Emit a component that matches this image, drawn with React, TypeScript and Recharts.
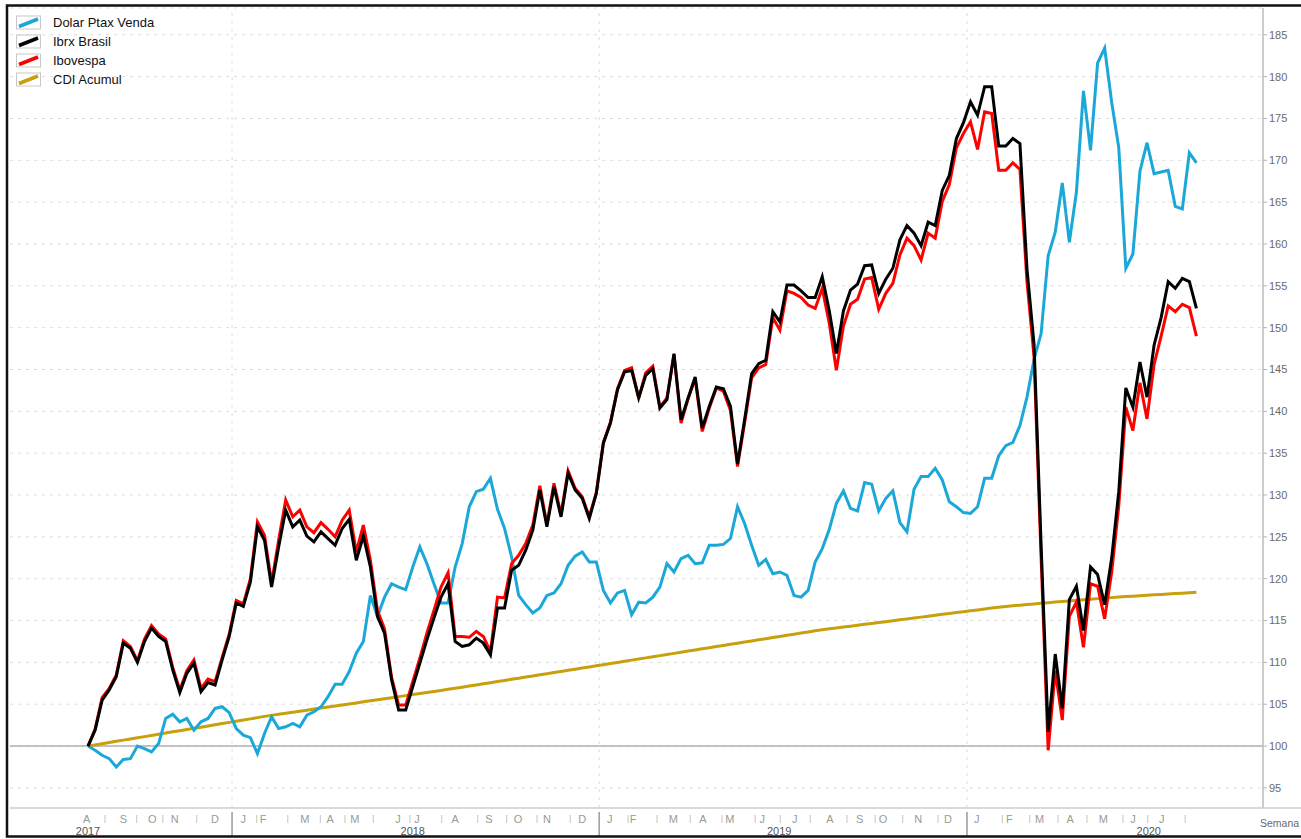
import React from 'react';
import {
  LineChart,
  Line,
  XAxis,
  YAxis,
  CartesianGrid,
  ReferenceLine,
  Legend,
} from 'recharts';

// weekly closes, base 100 = first week of Aug/2017
const dolar = [
  100, 99.5, 98.9, 98.5, 97.5, 98.4, 98.5, 100, 99.7, 99.3,
  100.3, 103.3, 103.8, 102.9, 103.3, 101.9, 102.9, 103.3, 104.5, 104.7,
  104.0, 102.1, 101.3, 101.0, 99.1, 101.5, 103.5, 102.1, 102.3, 102.7,
  102.3, 103.7, 104.1, 104.7, 105.9, 107.4, 107.4, 108.9, 111.1, 112.5,
  118.0, 115.5, 117.8, 119.4, 119.0, 118.7, 121.4, 123.8, 121.8, 119.4,
  117.1, 117.1, 121.4, 124.2, 128.6, 130.4, 130.7, 132.0, 128.3, 126.0,
  122.6, 118.0, 116.9, 115.9, 116.5, 118.0, 118.3, 119.4, 121.6, 122.7,
  123.2, 122.0, 122.0, 118.6, 117.1, 118.3, 118.6, 115.7, 117.2, 117.1,
  117.8, 119.0, 121.8, 120.8, 122.4, 122.8, 121.8, 121.9, 124.0, 124.0,
  124.1, 124.8, 128.6, 126.6, 124.0, 121.6, 122.3, 120.6, 120.8, 120.4,
  118.0, 117.8, 118.6, 122.0, 123.6, 125.9, 129.0, 130.5, 128.4, 128.1,
  131.5, 131.3, 128.1, 129.6, 130.5, 126.7, 125.6, 130.7, 132.2, 132.2,
  133.2, 131.8, 129.2, 128.6, 127.9, 127.8, 128.6, 132.0, 132.0, 134.7,
  135.9, 136.3, 138.3, 141.7, 146.2, 149.3, 158.6, 161.4, 167.3, 160.2,
  166.2, 178.3, 171.2, 181.6, 183.4, 176.9, 171.5, 157.1, 158.8, 168.7,
  172.1, 168.4, 168.6, 168.8, 164.5, 164.2, 170.9, 169.7,
];

const ibrx = [
  100, 101.9, 105.5, 106.7, 108.3, 112.3, 111.7, 110.0, 112.5, 114.1,
  113.1, 112.5, 109.1, 106.4, 108.7, 109.9, 106.5, 107.6, 107.3, 110.3,
  113.1, 117.1, 116.7, 119.6, 126.2, 124.6, 119.0, 123.8, 128.2, 126.2,
  127.0, 125.1, 124.4, 125.6, 124.8, 124.0, 126.0, 127.1, 122.2, 125.1,
  121.4, 115.5, 113.5, 107.9, 104.3, 104.3, 107.1, 109.9, 112.7, 115.3,
  117.8, 119.4, 112.5, 111.9, 112.1, 112.9, 112.3, 110.9, 116.5, 116.5,
  121.0, 121.6, 123.4, 125.8, 130.6, 126.2, 131.0, 127.4, 132.6, 130.6,
  129.6, 127.2, 130.2, 136.2, 138.6, 142.6, 144.7, 144.9, 141.6, 144.3,
  145.1, 140.4, 141.4, 146.9, 139.0, 141.6, 144.1, 138.0, 140.6, 142.9,
  142.7, 140.6, 133.7, 139.0, 144.5, 145.7, 146.1, 151.9, 150.7, 155.1,
  155.1, 154.4, 153.6, 153.6, 156.1, 152.0, 146.9, 152.0, 154.5, 155.2,
  157.4, 157.5, 154.1, 155.8, 157.1, 160.5, 162.2, 161.3, 159.8, 162.6,
  162.2, 166.4, 168.2, 172.6, 174.5, 177.0, 175.4, 178.8, 178.8, 171.7,
  171.7, 172.6, 172.0, 157.0, 148.0, 124.0, 101.7, 111.0, 104.5, 117.5,
  119.1, 113.8, 121.4, 120.5, 116.9, 122.5, 130.4, 142.8, 140.5, 145.9,
  141.7, 147.9, 151.2, 155.5, 154.7, 155.9, 155.5, 152.3,
];

const ibov = [
  100, 102.0, 105.8, 106.9, 108.5, 112.6, 111.9, 110.2, 112.8, 114.4,
  113.4, 112.8, 109.4, 106.7, 109.0, 110.3, 106.9, 108.0, 107.7, 110.6,
  113.4, 117.4, 117.0, 120.0, 126.8, 125.2, 119.5, 124.6, 129.4, 127.4,
  128.2, 126.2, 125.5, 126.7, 125.9, 125.0, 127.0, 128.2, 123.2, 126.4,
  122.2, 116.2, 114.0, 108.2, 104.9, 104.9, 107.7, 110.5, 113.5, 116.2,
  119.0, 120.7, 113.1, 113.1, 113.0, 113.7, 113.1, 111.3, 117.8, 117.7,
  121.8, 122.8, 124.2, 126.4, 131.1, 126.5, 131.4, 127.7, 132.9, 130.8,
  129.8, 127.4, 130.3, 136.3, 138.7, 142.7, 144.9, 145.2, 141.6, 144.6,
  145.4, 140.5, 141.6, 146.8, 138.6, 141.5, 143.9, 137.6, 140.4, 142.8,
  142.4, 140.1, 133.4, 138.6, 144.0, 145.2, 145.6, 151.2, 149.7, 154.4,
  154.1, 153.6, 152.7, 152.3, 154.7, 150.5, 144.9, 150.2, 152.8, 153.4,
  155.8, 156.0, 152.2, 154.1, 155.3, 158.7, 160.7, 159.8, 158.1, 161.3,
  160.7, 165.1, 167.1, 171.5, 173.2, 174.6, 171.3, 175.8, 175.6, 168.8,
  168.8, 169.7, 168.9, 155.5, 146.5, 122.5, 99.5, 109.0, 103.1, 115.5,
  117.2, 111.8, 119.4, 119.1, 115.2, 120.8, 128.7, 140.5, 137.7, 143.4,
  139.1, 145.6, 149.0, 152.6, 151.9, 152.8, 152.4, 149.0,
];

const cdi = [
  100.0, 100.14, 100.28, 100.43, 100.57, 100.71, 100.85, 100.99, 101.13, 101.27,
  101.41, 101.56, 101.7, 101.84, 101.98, 102.12, 102.26, 102.4, 102.54, 102.69,
  102.83, 102.97, 103.11, 103.25, 103.4, 103.55, 103.67, 103.8, 103.92, 104.05,
  104.17, 104.29, 104.42, 104.54, 104.67, 104.79, 104.92, 105.04, 105.16, 105.29,
  105.41, 105.54, 105.66, 105.78, 105.91, 106.03, 106.16, 106.28, 106.41, 106.53,
  106.65, 106.78, 106.9, 107.03, 107.17, 107.3, 107.44, 107.57, 107.71, 107.84,
  107.98, 108.11, 108.25, 108.38, 108.52, 108.65, 108.79, 108.92, 109.06, 109.19,
  109.33, 109.46, 109.6, 109.73, 109.87, 110.0, 110.14, 110.27, 110.4, 110.54,
  110.67, 110.81, 110.94, 111.08, 111.21, 111.35, 111.48, 111.62, 111.75, 111.89,
  112.02, 112.16, 112.29, 112.43, 112.56, 112.7, 112.83, 112.97, 113.1, 113.24,
  113.37, 113.51, 113.64, 113.77, 113.9, 114.01, 114.12, 114.23, 114.33, 114.44,
  114.55, 114.66, 114.77, 114.87, 114.98, 115.09, 115.2, 115.31, 115.41, 115.52,
  115.63, 115.74, 115.84, 115.95, 116.06, 116.17, 116.27, 116.38, 116.49, 116.6,
  116.68, 116.76, 116.84, 116.91, 116.99, 117.07, 117.14, 117.21, 117.28, 117.35,
  117.42, 117.49, 117.55, 117.62, 117.68, 117.74, 117.8, 117.86, 117.91, 117.97,
  118.02, 118.07, 118.12, 118.17, 118.22, 118.27, 118.32, 118.37,
];

// x axis: week index of month labels, month separators and years
const monthLabels = [
  'A', 'S', 'O', 'N', 'D',
  'J', 'F', 'M', 'A', 'M', 'J', 'J', 'A', 'S', 'O', 'N', 'D',
  'J', 'F', 'M', 'A', 'M', 'J', 'J', 'A', 'S', 'O', 'N', 'D',
  'J', 'F', 'M', 'A', 'M', 'J', 'J',
];
const monthWeeks = [
  -0.2, 5.0, 9.1, 12.3, 18.0,
  22.0, 24.8, 30.7, 34.3, 37.8, 43.9, 46.6, 52.0, 56.8, 60.9, 65.0, 70.0,
  73.9, 77.2, 82.9, 87.1, 90.9, 95.5, 100.1, 105.1, 109.3, 112.6, 117.6, 121.8,
  125.9, 130.5, 134.8, 139.1, 143.8, 148.0, 152.1,
];
const monthSepWeeks = [
  2.4, 6.9, 10.6, 15.4,
  23.9, 28.3, 32.9, 36.4, 40.4, 45.6, 50.1, 55.2, 59.3, 63.6, 68.3,
  76.5, 80.6, 85.3, 89.8, 94.5, 98.05, 102.3, 107.5, 111.5, 115.4, 120.4,
  129.5, 133.4, 137.4, 141.5, 146.6, 150.1, 155.4,
];
const yearLabels = ['2017', '2018', '2019', '2020'];
const yearLabelWeeks = [0, 46, 97.9, 150.25];
const yearSepWeeks = [20.4, 72.4, 124.5];

const yTicks = [95, 100, 105, 110, 115, 120, 125, 130, 135, 140, 145, 150, 155, 160, 165, 170, 175, 180, 185];

const series = [
  { key: 'dolar', name: 'Dolar Ptax Venda', color: '#1BA8D9' },
  { key: 'ibrx', name: 'Ibrx Brasil', color: '#000000' },
  { key: 'ibov', name: 'Ibovespa', color: '#FF0000' },
  { key: 'cdi', name: 'CDI Acumul', color: '#C8A00C' },
];

const data = dolar.map((v, i) => ({
  w: i,
  dolar: v,
  ibrx: ibrx[i],
  ibov: ibov[i],
  cdi: cdi[i],
}));

type Tick = { v: number; kind: 'month' | 'sep' | 'year' | 'ysep'; text?: string };
const xTicks: Tick[] = [
  ...monthWeeks.map((v, i) => ({ v, kind: 'month' as const, text: monthLabels[i] })),
  ...monthSepWeeks.map((v) => ({ v, kind: 'sep' as const })),
  ...yearLabelWeeks.map((v, i) => ({ v, kind: 'year' as const, text: yearLabels[i] })),
  ...yearSepWeeks.map((v) => ({ v, kind: 'ysep' as const })),
];

const W = 1301;
const H = 839;
const FONT = '"Liberation Sans", Arial, Helvetica, sans-serif';

function XTick(props: any) {
  const { x, y, payload } = props;
  const t = xTicks.find((k) => Math.abs(k.v - payload.value) < 1e-6);
  if (!t) return null;
  if (t.kind === 'month') {
    return (
      <text x={x} y={y + 15} textAnchor="middle" fontSize={11} fill="#9a9a9a" fontFamily={FONT}>
        {t.text}
      </text>
    );
  }
  if (t.kind === 'sep') {
    return <line x1={x} x2={x} y1={y + 7} y2={y + 15} stroke="#c4c4c4" strokeWidth={1} />;
  }
  if (t.kind === 'year') {
    return (
      <text x={x} y={y + 27} textAnchor="middle" fontSize={11} fill="#555" fontFamily={FONT}>
        {t.text}
      </text>
    );
  }
  return <line x1={x} x2={x} y1={y + 4} y2={y + 28} stroke="#9a9a9a" strokeWidth={1.5} />;
}

function LegendBox() {
  return (
    <div style={{ fontFamily: FONT, fontSize: 13, color: '#111' }}>
      {series.map((s) => (
        <div key={s.key} style={{ display: 'flex', alignItems: 'center', height: 19 }}>
          <svg width={26} height={19}>
            <rect x={0.5} y={3} width={24} height={13} fill="#fff" stroke="#c8c8c8" />
            <line x1={3} y1={13.5} x2={22} y2={6} stroke={s.color} strokeWidth={3.5} />
          </svg>
          <span style={{ marginLeft: 11, lineHeight: '19px' }}>{s.name}</span>
        </div>
      ))}
    </div>
  );
}

export default function App() {
  return (
    <div style={{ position: 'absolute', left: 0, top: 0, width: W, height: H, background: '#fff' }}>
      <LineChart
        width={W}
        height={H}
        data={data}
        margin={{ top: 8, right: 0, bottom: 0, left: 10 }}
      >
        <CartesianGrid vertical={false} stroke="#dcdcdc" strokeDasharray="3 5" />
        {yearSepWeeks.map((v) => (
          <ReferenceLine key={v} x={v} stroke="#dcdcdc" strokeDasharray="3 5" />
        ))}
        <ReferenceLine y={100} stroke="#b0b0b0" strokeWidth={1.5} />
        <XAxis
          dataKey="w"
          type="number"
          domain={[-11.05, 166.43]}
          ticks={xTicks.map((t) => t.v)}
          interval={0}
          tick={<XTick />}
          tickLine={false}
          axisLine={false}
          tickSize={0}
          tickMargin={0}
          height={31}
          allowDataOverflow
        />
        <YAxis
          orientation="right"
          type="number"
          domain={[92.6, 188.2]}
          ticks={yTicks}
          interval={0}
          width={38}
          tickSize={4}
          tickMargin={2}
          axisLine={{ stroke: '#cccccc', strokeWidth: 2 }}
          tickLine={{ stroke: '#b5b5b5' }}
          tick={{ fill: '#6a6a6a', fontSize: 11, fontFamily: FONT }}
          allowDataOverflow
        />
        <Legend
          layout="horizontal"
          verticalAlign="middle"
          content={<LegendBox />}
          wrapperStyle={{ left: 16, top: 13, width: 'auto', height: 'auto' }}
        />
        <Line type="linear" dataKey="cdi" stroke="#C8A00C" strokeWidth={3} dot={false} isAnimationActive={false} />
        <Line type="linear" dataKey="dolar" stroke="#1BA8D9" strokeWidth={3} dot={false} isAnimationActive={false} />
        <Line type="linear" dataKey="ibov" stroke="#FF0000" strokeWidth={3} dot={false} isAnimationActive={false} />
        <Line type="linear" dataKey="ibrx" stroke="#000000" strokeWidth={3} dot={false} isAnimationActive={false} />
      </LineChart>
      <svg
        width={W}
        height={H}
        style={{ position: 'absolute', left: 0, top: 0, pointerEvents: 'none' }}
      >
        <line x1={10} x2={W} y1={808} y2={808} stroke="#cfcfcf" strokeWidth={1.5} />
        <text x={1260} y={827} fontSize={10.5} fill="#6a6a6a" fontFamily={FONT}>
          Semana
        </text>
        <path d={`M ${W + 10} 5.5 L 7 5.5 L 7 836.5 L ${W + 10} 836.5`} fill="none" stroke="#111" strokeWidth={2.5} />
      </svg>
    </div>
  );
}
